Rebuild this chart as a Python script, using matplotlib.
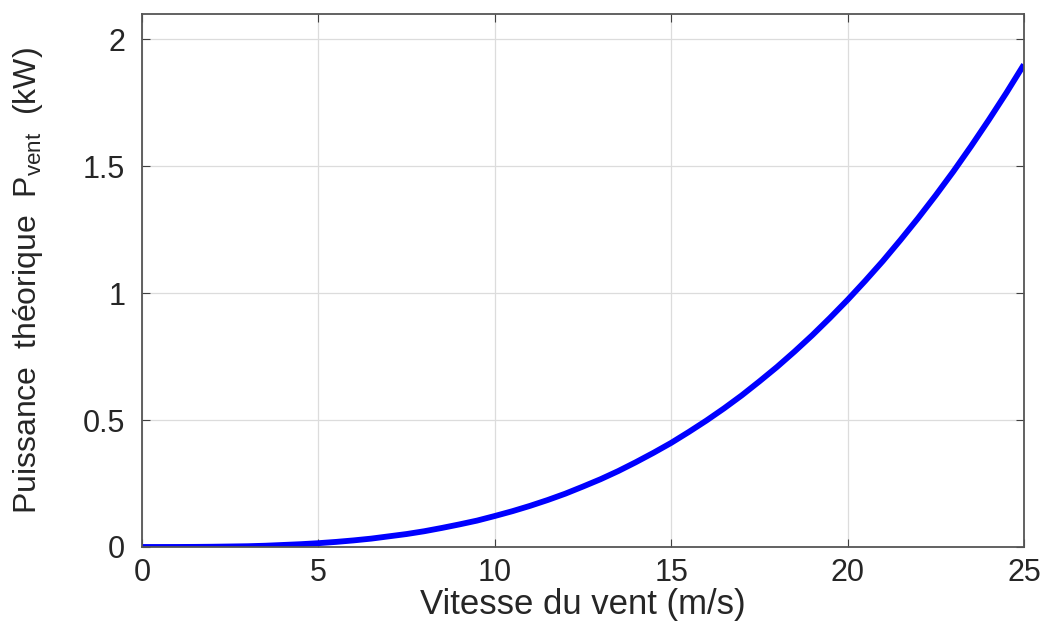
"""
Puissance théorique du vent en fonction de la vitesse.
"""
import matplotlib
matplotlib.use("Agg")
import matplotlib.pyplot as plt

# vitesse du vent (m/s) et puissance (kW)
vitesse = [0, 0.5, 1, 1.5, 2, 2.5, 3, 3.5, 4, 4.5, 5, 5.5, 6, 6.5, 7, 7.5,
           8, 8.5, 9, 9.5, 10, 10.5, 11, 11.5, 12, 12.5, 13, 13.5, 14, 14.5,
           15, 15.5, 16, 16.5, 17, 17.5, 18, 18.5, 19, 19.5, 20, 20.5, 21,
           21.5, 22, 22.5, 23, 23.5, 24, 24.5, 25]
puissance = [0, 0, 0.0001, 0.0004, 0.001, 0.002, 0.003, 0.005, 0.008, 0.011,
             0.015, 0.020, 0.026, 0.033, 0.042, 0.051, 0.062, 0.075, 0.089,
             0.104, 0.122, 0.141, 0.162, 0.185, 0.21, 0.238, 0.267, 0.299,
             0.334, 0.371, 0.41, 0.453, 0.498, 0.546, 0.597, 0.652, 0.709,
             0.77, 0.834, 0.902, 0.973, 1.048, 1.126, 1.209, 1.295, 1.385,
             1.479, 1.578, 1.681, 1.788, 1.9]

xticks = [0, 5, 10, 15, 20, 25]
yticks = [0, 0.5, 1, 1.5, 2]
ytick_labels = ["0", "0.5", "1", "1.5", "2"]

plt.rcParams['font.family'] = ['Liberation Sans', 'DejaVu Sans']
plt.rcParams['mathtext.fontset'] = 'custom'
plt.rcParams['mathtext.rm'] = 'Liberation Sans'
plt.rcParams['mathtext.it'] = 'Liberation Sans'

fig = plt.figure(figsize=(10.48, 6.28), dpi=100)
ax = fig.add_axes([0.1355, 0.129, 0.8415, 0.849])

ax.plot(vitesse, puissance, color='#0000ff', linewidth=4.2,
        solid_joinstyle='round', solid_capstyle='butt')

ax.set_xlim(0, 25)
ax.set_ylim(0, 2.1)
ax.set_xticks(xticks)
ax.set_yticks(yticks)
ax.set_yticklabels(ytick_labels)
ax.tick_params(direction='in', length=6, width=0.8, colors='#404040',
               labelsize=22, labelcolor='#262626', top=True, right=True)
ax.tick_params(axis='x', pad=8)
ax.tick_params(axis='y', pad=12)
ax.grid(True, color='#dcdcdc', linewidth=0.9)
for s in ax.spines.values():
    s.set_color('#555555')
    s.set_linewidth(1.3)

ax.set_xlabel("Vitesse du vent (m/s)", fontsize=25, color='#262626', labelpad=0)
ax.set_ylabel(r"Puissance  théorique  P$_{\mathrm{vent}}$  (kW)", fontsize=23,
              color='#262626', labelpad=27)

fig.savefig("out.png", dpi=100)
